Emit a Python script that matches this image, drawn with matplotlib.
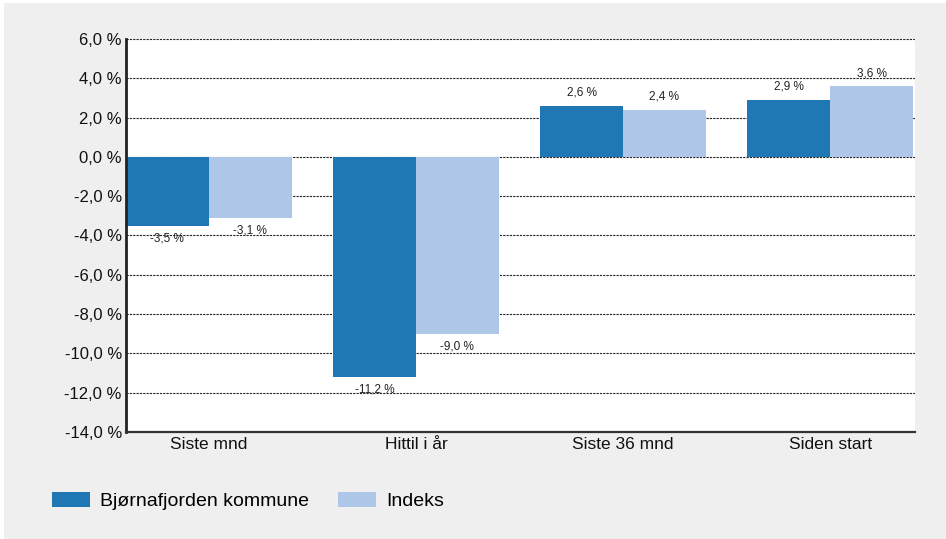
import matplotlib
matplotlib.use("Agg")
import matplotlib.pyplot as plt
from matplotlib.patches import Rectangle, Patch
import numpy as np

plt.rcParams['font.family'] = ['Liberation Sans', 'DejaVu Sans']

categories = ["Siste mnd", "Hittil i år", "Siste 36 mnd", "Siden start"]
series_names = ["Bjørnafjorden kommune", "Indeks"]
kommune = [-3.5, -11.2, 2.6, 2.9]
indeks = [-3.1, -9.0, 2.4, 3.6]
yticks = [6, 4, 2, 0, -2, -4, -6, -8, -10, -12, -14]
colors = ["#1f77b4", "#aec7e8"]

W, H = 946, 539
fig = plt.figure(figsize=(W / 100, H / 100), dpi=100, facecolor="white")
fig.patches.append(Rectangle((4 / W, 0), (W - 4) / W, (H - 3) / H,
                             transform=fig.transFigure, facecolor="#efefef",
                             edgecolor="none", zorder=-10))

ax = fig.add_axes([126 / W, 1 - 432 / H, (915 - 126) / W, (432 - 39) / H])
ax.set_facecolor("white")

x = np.arange(len(categories))
w = 0.4
b1 = ax.bar(x - w / 2, kommune, width=w, color=colors[0], zorder=2)
b2 = ax.bar(x + w / 2, indeks, width=w, color=colors[1], zorder=2)

def fmt(v):
    return f"{v:.1f}".replace(".", ",") + " %"

for bars, vals in ((b1, kommune), (b2, indeks)):
    for rect, v in zip(bars, vals):
        cx = rect.get_x() + rect.get_width() / 2
        if v >= 0:
            ax.annotate(fmt(v), (cx, v), xytext=(0, 5), textcoords="offset points",
                        ha="center", va="bottom", fontsize=8.5, color="#222222", zorder=4)
        else:
            ax.annotate(fmt(v), (cx, v), xytext=(0, -5), textcoords="offset points",
                        ha="center", va="top", fontsize=8.5, color="#222222", zorder=4)

ax.set_xlim(-0.4, 3.41)
ax.set_ylim(-14, 6)
ax.set_yticks(yticks)
ax.set_yticklabels([fmt(v) for v in yticks], fontsize=12, color="#111111")
ax.set_xticks(x)
ax.set_xticklabels(categories, fontsize=12.5, color="#111111")
ax.tick_params(axis="both", length=0, pad=3)
ax.tick_params(axis="x", pad=3.5)

ax.yaxis.grid(True, linestyle=(0, (2, 1)), color="#222222", linewidth=0.8, zorder=1)
ax.set_axisbelow(True)
for s in ("top", "right"):
    ax.spines[s].set_visible(False)
ax.spines["left"].set_linewidth(2)
ax.spines["bottom"].set_linewidth(1.6)
ax.spines["left"].set_color("#222222")
ax.spines["bottom"].set_color("#333333")

handles = [Patch(facecolor=c, edgecolor="none") for c in colors]
fig.legend(handles, series_names, loc="center left", bbox_to_anchor=(52 / W, 1 - 501 / H),
           ncol=2, frameon=False, fontsize=14, handlelength=1.96, handleheight=0.82,
           handletextpad=0.5, columnspacing=1.5, borderaxespad=0, borderpad=0)

fig.savefig("out.png", dpi=100, facecolor="white")
